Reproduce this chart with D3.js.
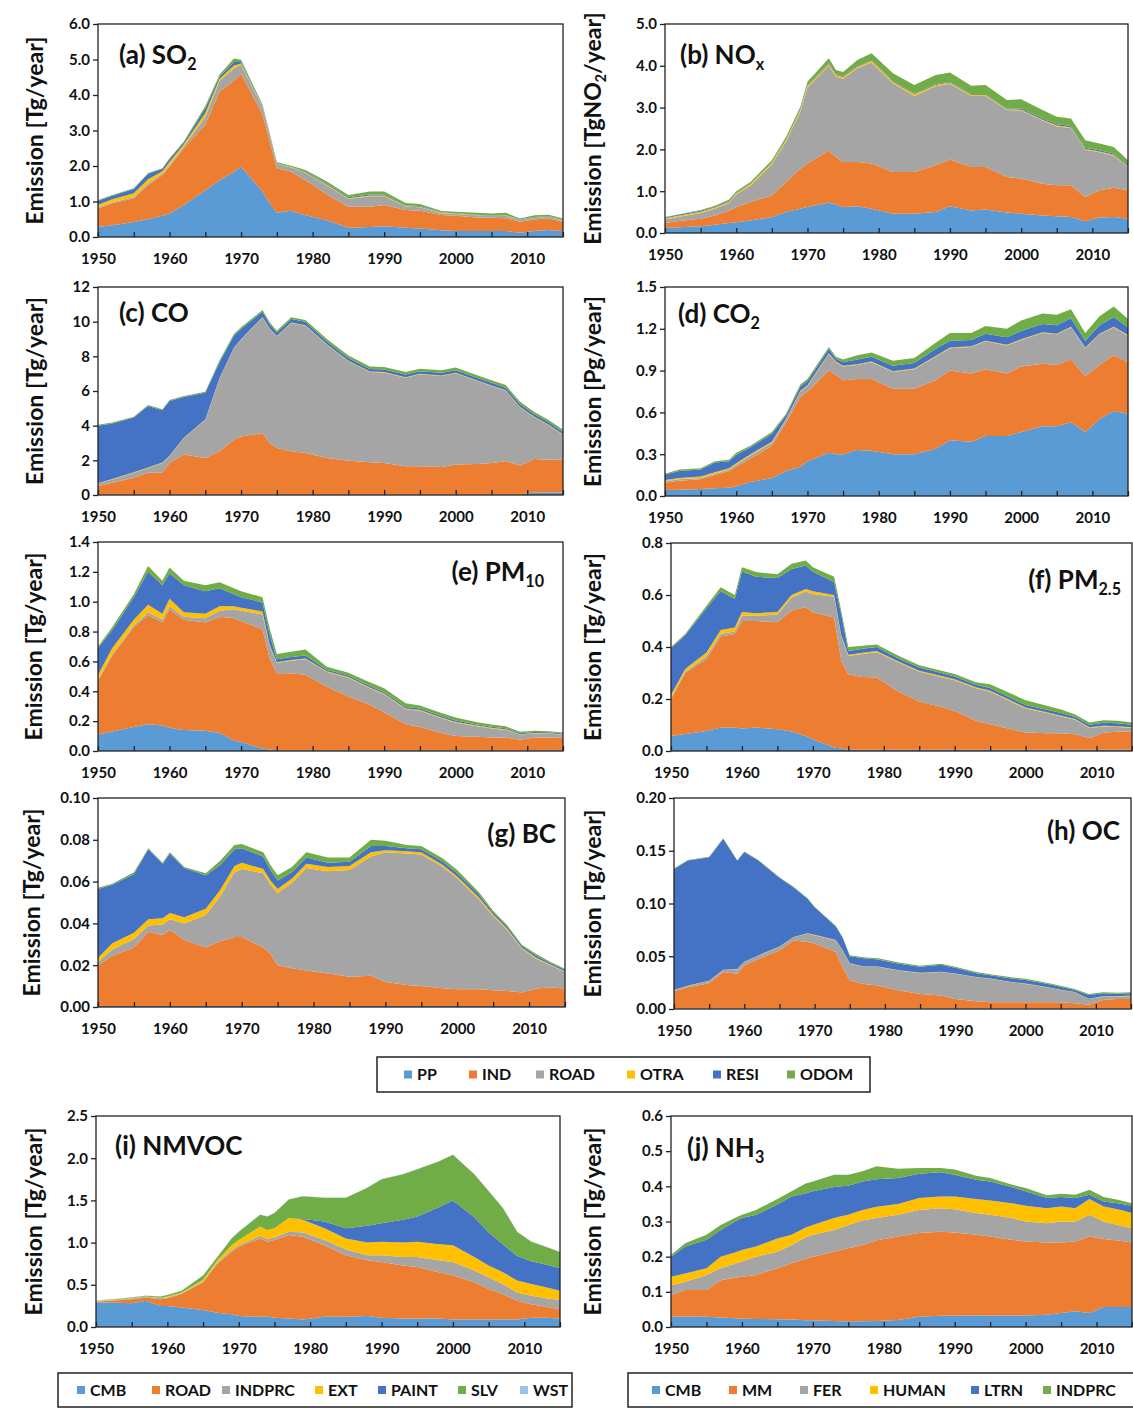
<!DOCTYPE html>
<html>
<head>
<meta charset="utf-8">
<script src="https://cdn.jsdelivr.net/npm/d3@7"></script>
<style>
  body { margin: 0; background: #fff; }
  svg { display: block; }
  svg text { font-family: Lato, "Open Sans", sans-serif; font-weight: 700; fill: #111; }
</style>
</head>
<body>
<svg id="chart" width="1133" height="1408"></svg>
<script>
// ---- data ----
const years = [1950,1952,1955,1957,1959, 1960,1962,1965,1967,1969, 1970,1973,1974,1975,1977,
  1979,1982,1985,1988,1990, 1993,1995,1998,2000,2003, 2005,2007,2009,2011,2013, 2015];
const labelYears = [1950, 1960, 1970, 1980, 1990, 2000, 2010];

const sectorKeys = ["PP", "IND", "ROAD", "OTRA", "RESI", "ODOM"];
const vocKeys = ["CMB", "ROAD", "INDPRC", "EXT", "PAINT", "SLV", "WST"];
const nh3Keys = ["CMB", "MM", "FER", "HUMAN", "LTRN", "INDPRC"];

const sectorColors = ["#5b9bd5", "#ed7d31", "#a5a5a5", "#ffc000", "#4472c4", "#70ad47"];
const vocColors = ["#5b9bd5", "#ed7d31", "#a5a5a5", "#ffc000", "#4472c4", "#70ad47", "#9dc3e6"];
const nh3Colors = ["#5b9bd5", "#ed7d31", "#a5a5a5", "#ffc000", "#4472c4", "#70ad47"];

// (a) SO2
const so2PP   = [.28,.33,.42,.5,.6, .66,.9,1.32,1.6,1.84, 1.98,1.28,.95,.68,.74, .61,.47,.26,.28,.30, .26,.24,.19,.17,.17, .17,.17,.12,.17,.2, .16];
const so2IND  = [.52,.62,.67,.96,1.15, 1.32,1.6,1.85,2.5,2.56, 2.62,2.17,1.75,1.26,1.1, .99,.73,.59,.57,.6, .5,.5,.43,.43,.38, .37,.36,.31,.32,.33, .26];
const so2ROAD = [.03,.03,.04,.05,.04, .05,.05,.2,.3,.35, .25,.2,.16,.12,.12, .2,.25,.22,.3,.25, .1,.1,.05,.05,.06, .05,.07,.04,.05,.04, .04];
const so2OTRA = [.08,.08,.1,.12,.06, .08,.06,.12,.06,.08, .04,.02,.02,.01,.01, .02,.02,.02,.02,.02, .01,.01,.01,.01,.01, .01,.01,.01,.01,.01, .01];
const so2RESI = [.11,.1,.12,.15,.07, .09,.06,.14,.06,.1, .04,.02,.02,.01,.01, .02,.03,.03,.03,.03, .02,.02,.01,.01,.01, .01,.01,.01,.01,.01, .01];
const so2ODOM = [.02,.02,.02,.02,.02, .02,.02,.06,.06,.1, .06,.04,.03,.03,.03, .05,.06,.06,.08,.08, .07,.06,.04,.04,.05, .05,.06,.03,.05,.04, .04];

// (b) NOx
const noxPP   = [.12,.14,.16,.2,.24, .26,.3,.38,.5,.58, .62,.73,.68,.62,.64, .58,.46,.46,.5,.64, .54,.56,.49,.46,.42, .4,.38,.28,.37,.38, .34];
const noxIND  = [.12,.15,.18,.22,.3, .36,.44,.52,.72,.96, 1.04,1.24,1.14,1.08,1.06, 1.08,1.0,1.0,1.12,1.12, 1.04,1.02,.85,.84,.76, .74,.76,.58,.65,.7, .68];
const noxROAD = [.08,.1,.14,.16,.18, .3,.39,.74,.97,1.36, 1.82,2.03,1.92,1.99,2.24, 2.42,2.12,1.82,1.89,1.81, 1.7,1.7,1.6,1.63,1.51, 1.41,1.37,1.13,.91,.77, .55];
const noxOTRA = [.03,.03,.03,.03,.03, .03,.04,.04,.04,.04, .04,.04,.04,.04,.04, .04,.04,.04,.03,.03, .02,.02,.02,.02,.02, .02,.02,.02,.02,.02, .02];
const noxRESI = [.02,.02,.02,.02,.02, .02,.02,.02,.02,.02, .02,.02,.02,.02,.02, .02,.02,.02,.02,.02, .02,.02,.02,.03,.03, .03,.03,.03,.03,.03, .03];
const noxODOM = [.01,.01,.02,.02,.03, .03,.03,.04,.05,.06, .08,.12,.1,.1,.14, .16,.18,.2,.22,.22, .2,.22,.2,.22,.2, .18,.18,.18,.16,.16, .12];

// (c) CO
const coPP   = [.03,.03,.03,.03,.03, .03,.03,.03,.03,.03, .03,.03,.03,.03,.03, .03,.03,.03,.03,.03, .03,.03,.03,.03,.03, .03,.03,.03,.15,.15, .15];
const coIND  = [.49,.67,.97,1.25,1.27, 1.82,2.3,2.11,2.49,3.16, 3.35,3.54,2.97,2.68,2.49, 2.39,2.11,1.95,1.86,1.82, 1.63,1.63,1.59,1.73,1.76, 1.82,1.92,1.67,1.93,1.89, 1.89];
const coROAD = [.13,.2,.28,.28,.55, .38,.95,2.19,4.22,5.27, 5.57,6.67,6.58,6.44,7.4, 7.35,6.53,5.74,5.2,5.21, 5.11,5.3,5.25,5.26,4.79, 4.44,4.06,3.35,2.4,1.99, 1.44];
const coOTRA = [.03,.03,.03,.03,.03, .03,.03,.03,.03,.03, .03,.03,.03,.03,.03, .03,.03,.03,.03,.03, .03,.03,.03,.03,.03, .03,.03,.03,.03,.03, .03];
const coRESI = [3.32,3.2,3.16,3.55,3.01, 3.17,2.35,1.54,.9,.7, .6,.3,.25,.2,.2, .2,.15,.15,.15,.15, .15,.15,.15,.15,.15, .15,.15,.15,.15,.14, .12];
const coODOM = [.05,.05,.05,.05,.05, .05,.05,.05,.1,.1, .1,.1,.1,.1,.1, .1,.15,.15,.15,.15, .15,.15,.15,.15,.15, .15,.15,.15,.13,.13, .13];

// (d) CO2
const co2PP   = [.043,.045,.05,.055,.06, .07,.1,.13,.18,.21, .25,.31,.3,.3,.33, .325,.3,.3,.34,.4, .39,.43,.43,.46,.5, .5,.53,.46,.55,.61, .59];
const co2IND  = [.052,.065,.07,.095,.12, .14,.17,.23,.35,.5, .5,.59,.57,.53,.51, .515,.47,.47,.49,.5, .49,.48,.45,.47,.45, .44,.45,.4,.39,.4, .37];
const co2ROAD = [.01,.01,.01,.01,.01, .015,.02,.02,.02,.04, .04,.12,.09,.1,.1, .12,.12,.14,.17,.16, .19,.2,.2,.19,.22, .22,.23,.2,.22,.2, .19];
const co2OTRA = [.01,.01,.01,.01,.01, .01,.01,.01,.005,.005, .005,.005,.005,.005,.005, .005,.005,.005,.005,.005, .005,.005,.005,.005,.005, .005,.005,.005,.005,.005, .005];
const co2RESI = [.04,.05,.05,.07,.05, .06,.05,.055,.025,.03, .03,.03,.02,.025,.035, .035,.04,.04,.05,.05, .045,.05,.055,.06,.06, .06,.06,.05,.06,.07, .055];
const co2ODOM = [.005,.01,.01,.01,.01, .015,.01,.015,.01,.015, .015,.015,.015,.02,.03, .03,.035,.035,.045,.055, .05,.055,.06,.075,.075, .075,.065,.055,.065,.075, .06];

// (e) PM10
const pm10PP   = [.11,.13,.16,.18,.17, .155,.14,.135,.12,.07, .06,.015,.01,.005,.005, .005,.005,.005,.005,.005, .005,.005,.005,.005,.005, .005,.005,.005,.005,.005, .005];
const pm10IND  = [.36,.51,.67,.73,.69, .795,.74,.725,.78,.82, .81,.8,.61,.515,.515, .505,.425,.36,.305,.255, .175,.155,.115,.095,.09, .085,.085,.07,.085,.085, .083];
const pm10ROAD = [.01,.01,.01,.02,.02, .02,.02,.03,.04,.06, .07,.1,.08,.07,.085, .105,.1,.125,.11,.12, .1,.11,.1,.09,.07, .06,.05,.035,.028,.026, .022];
const pm10OTRA = [.03,.04,.04,.05,.04, .05,.03,.03,.03,.02, .02,.02,.01,.005,.005, .005,.005,.005,.005,.005, .005,.005,.005,.005,.005, .005,.005,.003,.003,.003, .003];
const pm10RESI = [.18,.12,.15,.22,.19, .17,.18,.15,.12,.08, .07,.06,.07,.02,.02, .02,.01,.01,.01,.01, .01,.01,.01,.01,.008, .008,.007,.006,.006,.006, .005];
const pm10ODOM = [.01,.02,.02,.04,.03, .04,.03,.04,.04,.04, .04,.035,.04,.035,.035, .04,.02,.02,.025,.025, .025,.02,.02,.02,.015, .015,.013,.01,.008,.007, .006];

// (f) PM2.5
const pm25PP   = [.058,.065,.077,.09,.09, .087,.09,.084,.075,.058, .045,.013,.01,.005,.005, .005,.005,.005,.005,.005, .005,.005,.005,.005,.005, .005,.005,.005,.005,.005, .005];
const pm25IND  = [.142,.235,.277,.35,.36, .413,.41,.411,.465,.495, .489,.5,.34,.29,.28, .278,.225,.185,.165,.149, .111,.098,.079,.066,.063, .063,.059,.045,.065,.07, .07];
const pm25ROAD = [.005,.005,.01,.01,.01, .02,.02,.03,.05,.06, .07,.08,.09,.07,.088, .097,.111,.115,.115,.118, .125,.125,.105,.092,.078, .065,.056,.038,.024,.017, .013];
const pm25OTRA = [.01,.01,.015,.015,.015, .015,.01,.01,.01,.01, .01,.007,.005,.005,.005, .005,.004,.004,.004,.004, .004,.004,.004,.004,.003, .003,.003,.003,.003,.003, .003];
const pm25RESI = [.18,.13,.17,.15,.11, .155,.14,.13,.1,.09, .075,.05,.08,.015,.015, .015,.012,.012,.012,.011, .01,.01,.01,.01,.01, .01,.008,.01,.012,.012, .01];
const pm25ODOM = [.005,.005,.01,.015,.015, .017,.018,.015,.02,.02, .018,.02,.015,.015,.012, .01,.01,.009,.009,.009, .009,.015,.017,.018,.015, .014,.009,.009,.009,.009, .009];

// (g) BC
const bcPP   = [.0005,.0005,.0005,.0005,.0005, .0005,.0005,.0005,.0005,.0005, .0005,.0005,.0005,.0005,.0005, .0005,.0005,.0005,.0005,.0005, .0005,.0005,.0005,.0005,.0005, .0005,.0005,.0005,.0005,.0005, .0005];
const bcIND  = [.0195,.024,.028,.0355,.034, .0365,.0315,.028,.031,.033, .033,.028,.025,.0195,.018, .017,.0155,.014,.0145,.0115, .01,.0095,.0085,.008,.008, .0075,.0072,.0064,.0083,.0088, .0083];
const bcROAD = [.0015,.003,.004,.003,.005, .005,.008,.0155,.0215,.031, .0325,.0355,.033,.0345,.041, .049,.049,.051,.057,.062, .063,.063,.058,.053,.043, .0355,.029,.021,.0143,.0107, .0079];
const bcOTRA = [.002,.003,.003,.003,.003, .003,.003,.003,.003,.003, .003,.002,.002,.002,.002, .002,.002,.002,.002,.001, .001,.001,.001,.001,.001, .0007,.0006,.0005,.0005,.0003, .0003];
const bcRESI = [.033,.028,.028,.0335,.026, .0285,.0235,.016,.012,.008, .007,.006,.005,.004,.003, .003,.002,.002,.003,.002, .0015,.0015,.0015,.0015,.0015, .001,.001,.0009,.0009,.0007, .0008];
const bcODOM = [.0005,.0005,.001,.0005,.0005, .0005,.0005,.001,.002,.002, .002,.002,.0025,.0025,.0025, .0025,.0025,.002,.003,.0025, .0015,.0015,.0015,.0015,.001, .0008,.0007,.0005,.0009,.0005, .0005];

// (h) OC
const ocPP   = [.0005,.0005,.0005,.0005,.0005, .0005,.0005,.0005,.0005,.0005, .0005,.0005,.0005,.0005,.0005, .0005,.0005,.0005,.0005,.0005, .0005,.0005,.0005,.0005,.0005, .0005,.0005,.0005,.0005,.0005, .0005];
const ocIND  = [.0163,.02,.024,.0345,.033, .041,.047,.055,.0645,.063, .0615,.0535,.039,.0265,.0233, .0217,.017,.0138,.0122,.009, .0068,.0058,.0058,.0058,.0058, .0058,.0049,.0036,.0081,.009, .009];
const ocROAD = [.001,.0015,.002,.002,.004, .003,.003,.0035,.003,.008, .008,.011,.016,.016,.0162, .0178,.019,.0197,.0223,.0238, .0227,.0223,.0191,.0175,.0143, .0117,.0105,.0054,.0031,.0022, .0029];
const ocOTRA = [.0003,.0003,.0003,.0003,.0003, .0003,.0003,.0003,.0003,.0003, .0003,.0003,.0003,.0003,.0003, .0003,.0003,.0003,.0003,.0003, .0003,.0003,.0003,.0003,.0003, .0003,.0003,.0003,.0003,.0003, .0003];
const ocRESI = [.1147,.1185,.117,.124,.1027, .104,.09,.0652,.047,.0327, .0262,.0132,.0117,.0067,.0077, .0067,.0062,.0057,.0067,.0054, .0037,.0031,.0033,.0035,.0031, .0027,.0018,.0035,.0029,.0025, .0022];
const ocODOM = [.0005,.0005,.0005,.0005,.0005, .0005,.0005,.0005,.0005,.0005, .0005,.0005,.0005,.001,.001, .001,.001,.001,.001,.001, .001,.001,.001,.001,.001, .001,.001,.001,.001,.001, .001];

// (i) NMVOC
const vocCMB    = [.29,.29,.28,.31,.25, .25,.23,.2,.17,.15, .13,.12,.12,.11,.1, .09,.12,.12,.13,.11, .1,.1,.1,.09,.09, .09,.09,.09,.11,.11, .1];
const vocROAD   = [.01,.02,.05,.04,.08, .09,.16,.33,.58,.74, .82,.93,.89,.92,.99, .98,.85,.73,.66,.66, .63,.61,.55,.52,.44, .36,.3,.22,.16,.13, .11];
const vocINDPRC = [.005,.005,.007,.007,.01, .01,.01,.01,.015,.02, .02,.03,.03,.03,.04, .05,.06,.07,.06,.08, .1,.12,.14,.16,.14, .14,.12,.1,.1,.1, .11];
const vocEXT    = [.003,.005,.005,.005,.007, .01,.01,.02,.025,.06, .06,.11,.11,.11,.16, .15,.14,.13,.15,.16, .17,.18,.19,.2,.16, .14,.14,.14,.14,.13, .11];
const vocPAINT  = [0,0,0,0,0, 0,0,0,0,0, 0,0,0,0,0, .01,.08,.12,.2,.22, .27,.3,.44,.53,.47, .39,.33,.29,.27,.27, .27];
const vocSLV    = [.002,.005,.008,.008,.013, .02,.02,.05,.04,.08, .1,.14,.16,.18,.22, .27,.28,.36,.45,.52, .54,.56,.54,.54,.51, .49,.43,.29,.23,.21, .19];
const vocWST    = [.003,.003,.003,.003,.003, .003,.003,.003,.003,.003, .003,.003,.003,.003,.003, .003,.003,.003,.003,.003, .003,.003,.003,.003,.003, .003,.003,.003,.003,.003, .003];

// (j) NH3
const nh3CMB    = [.03,.03,.029,.027,.025, .024,.023,.022,.021,.019, .019,.017,.016,.016,.016, .017,.02,.029,.032,.033, .033,.033,.033,.033,.035, .04,.045,.04,.057,.057, .057];
const nh3MM     = [.06,.075,.076,.106,.115, .119,.125,.145,.16,.175, .181,.197,.203,.208,.217, .23,.237,.238,.239,.236, .229,.224,.215,.21,.205, .2,.198,.217,.193,.189, .183];
const nh3FER    = [.029,.024,.043,.034,.04, .043,.052,.047,.052,.061, .062,.062,.064,.066,.07, .063,.062,.066,.067,.066, .062,.062,.062,.057,.055, .06,.057,.062,.05,.044, .041];
const nh3HUMAN  = [.024,.023,.019,.033,.032, .033,.029,.038,.029,.028, .028,.034,.032,.029,.03, .032,.031,.034,.033,.036, .04,.041,.042,.045,.043, .043,.038,.045,.043,.045, .043];
const nh3LTRN   = [.057,.077,.081,.076,.088, .091,.09,.096,.109,.097, .096,.088,.085,.083,.081, .078,.074,.069,.069,.062, .055,.054,.046,.041,.029, .027,.029,.012,.014,.017, .021];
const nh3INDPRC = [.005,.009,.014,.014,.01, .009,.014,.016,.015,.028, .028,.035,.033,.031,.029, .037,.026,.016,.012,.015, .011,.01,.007,.009,.008, .009,.009,.014,.013,.01, .007];

// y tick labels per panel
const ticksA = [0, 1, 2, 3, 4, 5, 6];
const ticksB = [0, 1, 2, 3, 4, 5];
const ticksC = [0, 2, 4, 6, 8, 10, 12];
const ticksD = [0, 0.3, 0.6, 0.9, 1.2, 1.5];
const ticksE = [0, 0.2, 0.4, 0.6, 0.8, 1.0, 1.2, 1.4];
const ticksF = [0, 0.2, 0.4, 0.6, 0.8];
const ticksG = [0, 0.02, 0.04, 0.06, 0.08, 0.10];
const ticksH = [0, 0.05, 0.10, 0.15, 0.20];
const ticksI = [0, 0.5, 1.0, 1.5, 2.0, 2.5];
const ticksJ = [0, 0.1, 0.2, 0.3, 0.4, 0.5, 0.6];

// ---- panels ----
const panels = [
  { box: [98, 24, 563, 237], series: [so2PP, so2IND, so2ROAD, so2OTRA, so2RESI, so2ODOM], keys: sectorKeys, colors: sectorColors,
    ticks: ticksA, fmt: ".1f", title: [["(a) SO"], ["2", true]], tx: 119, ty: 64, anchor: "start",
    ytitle: [["Emission [Tg/year]"]], yx: 35 },
  { box: [665, 24, 1128, 233], series: [noxPP, noxIND, noxROAD, noxOTRA, noxRESI, noxODOM], keys: sectorKeys, colors: sectorColors,
    ticks: ticksB, fmt: ".1f", title: [["(b) NO"], ["x", true]], tx: 680, ty: 64, anchor: "start",
    ytitle: [["Emission [TgNO"], ["2", true], ["/year]"]], yx: 593 },
  { box: [98, 287, 563, 495], series: [coPP, coIND, coROAD, coOTRA, coRESI, coODOM], keys: sectorKeys, colors: sectorColors,
    ticks: ticksC, fmt: "d", title: [["(c) CO"]], tx: 119, ty: 322, anchor: "start",
    ytitle: [["Emission [Tg/year]"]], yx: 35 },
  { box: [665, 287, 1128, 496], series: [co2PP, co2IND, co2ROAD, co2OTRA, co2RESI, co2ODOM], keys: sectorKeys, colors: sectorColors,
    ticks: ticksD, fmt: ".1f", title: [["(d) CO"], ["2", true]], tx: 678, ty: 323, anchor: "start",
    ytitle: [["Emission [Pg/year]"]], yx: 593 },
  { box: [98, 542, 563, 751], series: [pm10PP, pm10IND, pm10ROAD, pm10OTRA, pm10RESI, pm10ODOM], keys: sectorKeys, colors: sectorColors,
    ticks: ticksE, fmt: ".1f", title: [["(e) PM"], ["10", true]], tx: 544, ty: 581, anchor: "end",
    ytitle: [["Emission [Tg/year]"]], yx: 34 },
  { box: [671, 543, 1132, 751], series: [pm25PP, pm25IND, pm25ROAD, pm25OTRA, pm25RESI, pm25ODOM], keys: sectorKeys, colors: sectorColors,
    ticks: ticksF, fmt: ".1f", title: [["(f) PM"], ["2.5", true]], tx: 1121, ty: 589, anchor: "end",
    ytitle: [["Emission [Tg/year]"]], yx: 593 },
  { box: [98, 798, 565, 1007], series: [bcPP, bcIND, bcROAD, bcOTRA, bcRESI, bcODOM], keys: sectorKeys, colors: sectorColors,
    ticks: ticksG, fmt: ".2f", title: [["(g) BC"]], tx: 556, ty: 843, anchor: "end",
    ytitle: [["Emission [Tg/year]"]], yx: 32 },
  { box: [674, 798, 1131, 1009], series: [ocPP, ocIND, ocROAD, ocOTRA, ocRESI, ocODOM], keys: sectorKeys, colors: sectorColors,
    ticks: ticksH, fmt: ".2f", title: [["(h) OC"]], tx: 1120, ty: 840, anchor: "end",
    ytitle: [["Emission [Tg/year]"]], yx: 593 },
  { box: [96, 1116, 560, 1327], series: [vocCMB, vocROAD, vocINDPRC, vocEXT, vocPAINT, vocSLV, vocWST], keys: vocKeys, colors: vocColors,
    ticks: ticksI, fmt: ".1f", title: [["(i) NMVOC"]], tx: 115, ty: 1155, anchor: "start",
    ytitle: [["Emission [Tg/year]"]], yx: 34 },
  { box: [671, 1116, 1132, 1327], series: [nh3CMB, nh3MM, nh3FER, nh3HUMAN, nh3LTRN, nh3INDPRC], keys: nh3Keys, colors: nh3Colors,
    ticks: ticksJ, fmt: ".1f", title: [["(j) NH"], ["3", true]], tx: 687, ty: 1157, anchor: "start",
    ytitle: [["Emission [Tg/year]"]], yx: 593 }
];

const svg = d3.select("#chart");

// text with optional subscript pieces
const addRichText = (sel, parts, size) => {
  let down = false;
  parts.forEach(([t, sub]) => {
    const ts = sel.append("tspan").text(t);
    if (sub) {
      ts.style("font-size", `${size * 0.62}px`);
      if (!down) { ts.attr("dy", size * 0.22); down = true; }
    } else if (down) {
      ts.attr("dy", -size * 0.22); down = false;
    }
  });
};

const drawPanel = (p) => {
  const [left, top, right, bottom] = p.box;
  const xScale = d3.scaleLinear().domain([1950, 2015]).range([left, right]);
  const yScale = d3.scaleLinear().domain([0, d3.max(p.ticks)]).range([bottom, top]);

  const rows = years.map((yr, i) => {
    const r = { year: yr };
    p.keys.forEach((k, j) => { r[k] = p.series[j][i]; });
    return r;
  });
  const stack = d3.stack().keys(p.keys);
  const series = stack(rows);

  const area = d3.area()
    .x(d => xScale(d.data.year))
    .y0(d => yScale(d[0]))
    .y1(d => yScale(d[1]));

  const g = svg.append("g");
  g.append("g")
    .selectAll("path")
    .data(series)
    .join("path")
      .attr("d", area)
      .attr("fill", (d, i) => p.colors[i]);

  // plot frame
  g.append("rect")
    .attr("x", left).attr("y", top)
    .attr("width", right - left).attr("height", bottom - top)
    .attr("fill", "none").attr("stroke", "#222").attr("stroke-width", 1.3);

  const bottomAxis = d3.axisBottom(xScale)
    .tickValues(d3.range(1950, 2016, 5))
    .tickSize(-5)
    .tickPadding(16)
    .tickFormat(d => labelYears.includes(d) ? d : "");
  const xg = g.append("g")
    .attr("transform", `translate(0, ${bottom})`)
    .call(bottomAxis);
  xg.select(".domain").remove();
  xg.selectAll("line").attr("stroke", "#222").attr("stroke-width", 1.3);
  xg.selectAll("text").attr("fill", "#111").style("font-size", "15px");

  const leftAxis = d3.axisLeft(yScale)
    .tickValues(p.ticks)
    .tickSize(5)
    .tickPadding(3)
    .tickFormat(d3.format(p.fmt));
  const yg = g.append("g")
    .attr("transform", `translate(${left}, 0)`)
    .call(leftAxis);
  yg.select(".domain").remove();
  yg.selectAll("line").attr("stroke", "#222").attr("stroke-width", 1.3);
  yg.selectAll("text").attr("fill", "#111").style("font-size", "15px");

  // panel title
  const title = g.append("text")
    .attr("x", p.tx).attr("y", p.ty)
    .attr("text-anchor", p.anchor)
    .style("font-size", "26px");
  addRichText(title, p.title, 26);

  // y axis title
  const ytitle = g.append("text")
    .attr("transform", `translate(${p.yx}, ${(top + bottom) / 2}) rotate(-90)`)
    .attr("text-anchor", "middle")
    .attr("dy", "0.35em")
    .style("font-size", "23px");
  addRichText(ytitle, p.ytitle, 23);
};

panels.forEach(drawPanel);

// ---- legends ----
const legends = [
  { box: [377, 1057, 870, 1092], keys: sectorKeys, colors: sectorColors, xs: [404, 469, 536, 627, 713, 787] },
  { box: [58, 1373, 572, 1407], keys: vocKeys, colors: vocColors, xs: [77, 152, 222, 315, 378, 458, 520] },
  { box: [628, 1373, 1145, 1407], keys: nh3Keys, colors: nh3Colors, xs: [652, 729, 800, 870, 971, 1043] }
];

legends.forEach(l => {
  const [x0, y0, x1, y1] = l.box;
  const cy = (y0 + y1) / 2;
  const lg = svg.append("g");
  lg.append("rect")
    .attr("x", x0).attr("y", y0)
    .attr("width", x1 - x0).attr("height", y1 - y0)
    .attr("fill", "#fff").attr("stroke", "#222").attr("stroke-width", 1.5);
  const item = lg.selectAll("g.item")
    .data(l.keys)
    .join("g")
      .attr("class", "item")
      .attr("transform", (d, i) => `translate(${l.xs[i]}, ${cy})`);
  item.append("rect")
    .attr("x", 0).attr("y", -4)
    .attr("width", 8).attr("height", 8)
    .attr("fill", (d, i) => l.colors[i]);
  item.append("text")
    .attr("x", 13)
    .attr("dy", "0.36em")
    .style("font-size", "16px")
    .text(d => d);
});
</script>
</body>
</html>
